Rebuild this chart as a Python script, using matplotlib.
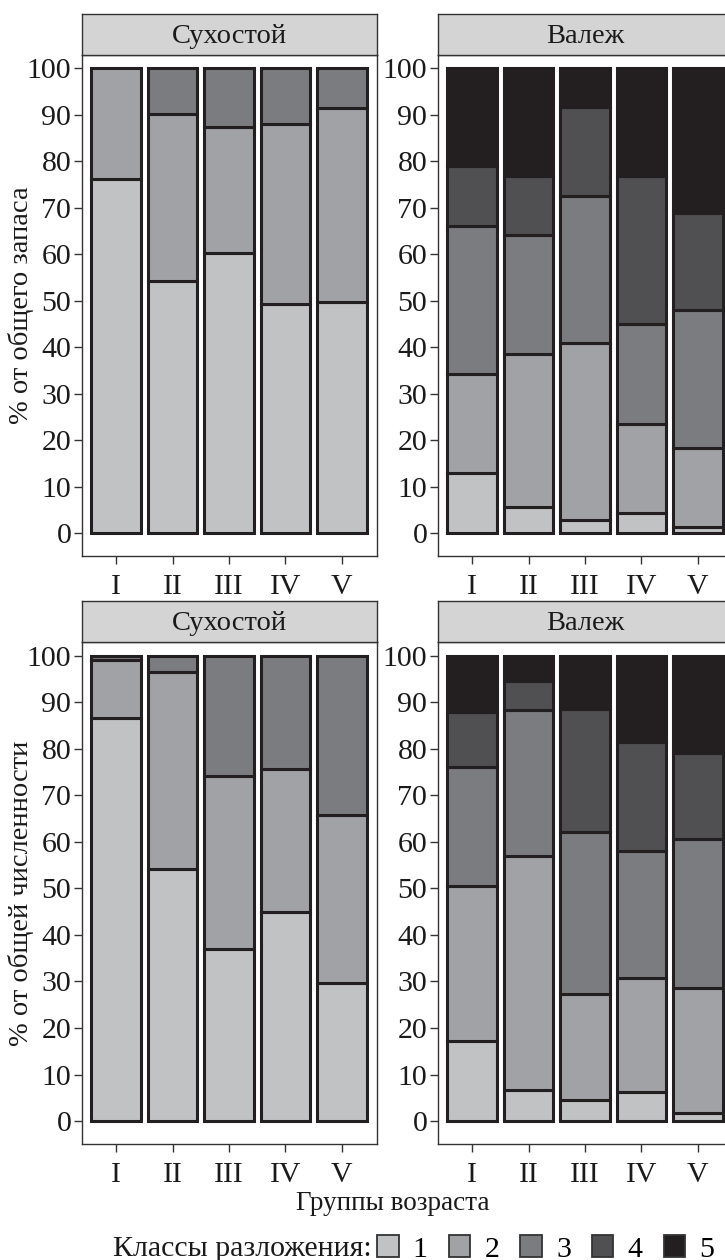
import matplotlib
matplotlib.use("Agg")
import matplotlib.pyplot as plt
from matplotlib.patches import Patch
import numpy as np

# ---------------- data ----------------
groups = ["I", "II", "III", "IV", "V"]
classes = ["1", "2", "3", "4", "5"]
class_colors = ["#c1c2c4", "#a1a2a6", "#7b7c80", "#505052", "#231f20"]

strip_left = "Сухостой"
strip_right = "Валеж"
ylabel_top = "% от общего запаса"
ylabel_bottom = "% от общей численности"
xlabel = "Группы возраста"
legend_title = "Классы разложения:"

# % of total stock — snags (Сухостой)
stock_snag_c1 = [76.3, 54.2, 60.3, 49.4, 49.8]
stock_snag_c2 = [23.7, 36.0, 27.2, 38.6, 41.7]
stock_snag_c3 = [0.0, 9.8, 12.5, 12.0, 8.5]
stock_snag_c4 = [0.0, 0.0, 0.0, 0.0, 0.0]
stock_snag_c5 = [0.0, 0.0, 0.0, 0.0, 0.0]

# % of total stock — logs (Валеж)
stock_log_c1 = [13.0, 5.6, 2.9, 4.3, 1.4]
stock_log_c2 = [21.2, 32.9, 38.1, 19.3, 16.9]
stock_log_c3 = [32.0, 25.6, 31.6, 21.5, 29.7]
stock_log_c4 = [12.8, 12.7, 19.1, 31.7, 21.0]
stock_log_c5 = [21.0, 23.2, 8.3, 23.2, 31.0]

# % of total number — snags (Сухостой)
count_snag_c1 = [86.5, 54.2, 37.0, 45.0, 29.7]
count_snag_c2 = [12.6, 42.2, 37.2, 30.7, 36.1]
count_snag_c3 = [0.9, 3.6, 25.8, 24.3, 34.2]
count_snag_c4 = [0.0, 0.0, 0.0, 0.0, 0.0]
count_snag_c5 = [0.0, 0.0, 0.0, 0.0, 0.0]

# % of total number — logs (Валеж)
count_log_c1 = [17.2, 6.7, 4.5, 6.2, 1.8]
count_log_c2 = [33.3, 50.3, 22.9, 24.6, 26.8]
count_log_c3 = [25.5, 31.2, 34.8, 27.3, 32.0]
count_log_c4 = [11.8, 6.4, 26.4, 23.3, 18.5]
count_log_c5 = [12.2, 5.4, 11.4, 18.6, 20.9]

yticks = [0, 10, 20, 30, 40, 50, 60, 70, 80, 90, 100]

# ---------------- style ----------------
FONT = ["Liberation Serif", "DejaVu Serif"]
plt.rcParams["font.family"] = FONT
FS_TICK = 21.5
FS_STRIP = 20.5
FS_YLAB = 20.5
FS_XLAB = 19.5
FS_LEG = 21.5
W, H = 725, 1260
fig = plt.figure(figsize=(W / 100, H / 100), dpi=100)

FRAME = "#333333"
EDGE = "#231f20"
STRIP_BG = "#d4d4d4"
TXT = "#1a1a1a"


def fx(px):
    return px / W


def fy(py):
    return 1 - py / H


def add_panel(x0, y_top, y_bot, strip_top, title, series, show_ylabel=None):
    width_px = 295.6
    ax = fig.add_axes([fx(x0), fy(y_bot), width_px / W, (y_bot - y_top) / H])
    sax = fig.add_axes([fx(x0), fy(y_top), width_px / W, (y_top - strip_top) / H])
    # strip
    sax.set_facecolor(STRIP_BG)
    sax.set_xticks([])
    sax.set_yticks([])
    for s in sax.spines.values():
        s.set_color(FRAME)
        s.set_linewidth(1.0)
    sax.text(0.5, 0.45, title, ha="center", va="center", fontsize=FS_STRIP,
             color=TXT, transform=sax.transAxes)
    # bars
    x = np.arange(1, len(groups) + 1)
    bottom = np.zeros(len(groups))
    for vals, col in zip(series, class_colors):
        vals = np.asarray(vals, dtype=float)
        mask = vals > 0
        if mask.any():
            ax.bar(x[mask], vals[mask], bottom=bottom[mask], width=0.88,
                   color=col, edgecolor=EDGE, linewidth=2.2, zorder=2)
        bottom = bottom + vals
    ax.set_xlim(0.39, 5.63)
    ax.set_ylim(-4.9, 102.9)
    ax.set_xticks(x)
    ax.set_xticklabels(groups)
    ax.set_yticks(yticks)
    ax.set_yticklabels([str(t) for t in yticks])
    ax.tick_params(axis="both", labelsize=FS_TICK, colors=FRAME, labelcolor=TXT,
                   length=6, width=1.0)
    ax.tick_params(axis="x", pad=7)
    ax.tick_params(axis="y", pad=1.5)
    for s in ax.spines.values():
        s.set_color(FRAME)
        s.set_linewidth(1.0)
    ax.set_facecolor("white")
    if show_ylabel:
        fig.text(fx(21), fy((y_top + y_bot) / 2), show_ylabel, rotation=90,
                 ha="center", va="center", fontsize=FS_YLAB, color=TXT)
    return ax


LEFT_X = 81.7
RIGHT_X = 437.7

add_panel(LEFT_X, 55, 556, 14, strip_left,
          [stock_snag_c1, stock_snag_c2, stock_snag_c3, stock_snag_c4, stock_snag_c5],
          show_ylabel=ylabel_top)
add_panel(RIGHT_X, 55, 556, 14, strip_right,
          [stock_log_c1, stock_log_c2, stock_log_c3, stock_log_c4, stock_log_c5])
add_panel(LEFT_X, 642, 1144, 601, strip_left,
          [count_snag_c1, count_snag_c2, count_snag_c3, count_snag_c4, count_snag_c5],
          show_ylabel=ylabel_bottom)
add_panel(RIGHT_X, 642, 1144, 601, strip_right,
          [count_log_c1, count_log_c2, count_log_c3, count_log_c4, count_log_c5])

# x-axis title
fig.text(fx(393), fy(1203), xlabel, ha="center", va="center", fontsize=FS_XLAB,
         color=TXT)

# legend
fig.text(fx(372), fy(1249), legend_title, ha="right", va="center", fontsize=FS_LEG,
         color=TXT)
handles = [Patch(facecolor=c, edgecolor=FRAME, linewidth=1.3) for c in class_colors]
fig.legend(handles, classes, ncol=5, loc="center left",
           bbox_to_anchor=(fx(377), fy(1249)), frameon=False, fontsize=FS_LEG,
           handlelength=0.72, handleheight=0.72, handletextpad=0.48,
           columnspacing=0.7, borderaxespad=0, borderpad=0.0)

fig.savefig("out.png", dpi=100, facecolor="white")
